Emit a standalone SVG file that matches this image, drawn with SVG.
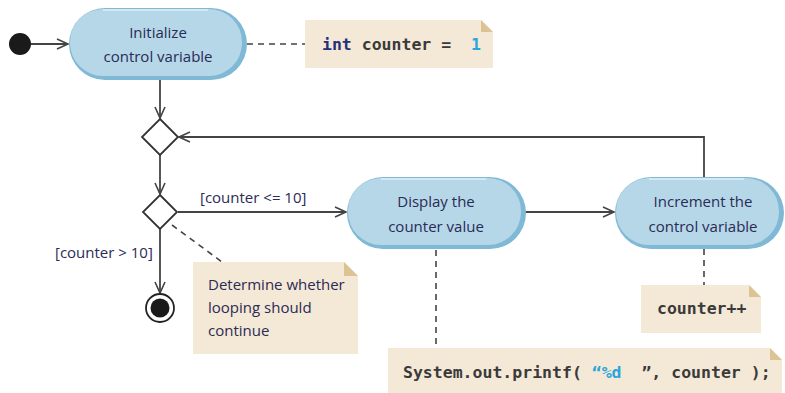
<svg xmlns="http://www.w3.org/2000/svg" width="785" height="393" viewBox="0 0 785 393">
  <defs>
    <marker id="open-arrow" markerUnits="userSpaceOnUse" markerWidth="14" markerHeight="12" refX="12" refY="6" orient="auto">
      <path d="M1,1 L12,6 L1,11" fill="none" stroke="#444" stroke-width="1.6"/>
    </marker>
  </defs>
  <style>
    .flow { fill: none; stroke: #444; stroke-width: 1.8; }
    .link { fill: none; stroke: #444; stroke-width: 1.6; stroke-dasharray: 6 5; }
    .pill-edge { fill: #7fb9d6; }
    .pill-body { fill: #b5d7e8; }
    .pill-glow { fill: none; stroke: #d5e9f2; stroke-width: 2; }
    .label { font-family: "Open Sans", "Liberation Sans", sans-serif; font-size: 15px; fill: #2b2b55; }
    .note { fill: #f4e8d6; }
    .fold { fill: #dcc394; }
    .code { font-family: "DejaVu Sans Mono", "Liberation Mono", monospace; font-size: 16.5px; font-weight: bold; fill: #3a3a3a; white-space: pre; }
    .kw { fill: #25307a; }
    .lit { fill: #2aa5dc; }
    .decision { fill: #fff; stroke: #333; stroke-width: 1.8; }
  </style>

  <!-- connectors -->
  <g id="connectors">
    <line class="flow" x1="31" y1="44" x2="68" y2="44" marker-end="url(#open-arrow)"/>
    <line class="flow" x1="160" y1="80" x2="160" y2="118" marker-end="url(#open-arrow)"/>
    <line class="flow" x1="160" y1="155" x2="160" y2="194" marker-end="url(#open-arrow)"/>
    <line class="flow" x1="178" y1="212" x2="346" y2="212" marker-end="url(#open-arrow)"/>
    <line class="flow" x1="160" y1="229" x2="160" y2="293" marker-end="url(#open-arrow)"/>
    <line class="flow" x1="525" y1="212" x2="614" y2="212" marker-end="url(#open-arrow)"/>
    <polyline class="flow" points="704,177 704,137 179,137" marker-end="url(#open-arrow)"/>
    <text class="label" x="200" y="203">[counter &lt;= 10]</text>
    <text class="label" x="55" y="258">[counter &gt; 10]</text>
    <line class="link" x1="247" y1="44" x2="305" y2="44"/>
    <line class="link" x1="172" y1="225" x2="222" y2="262"/>
    <line class="link" x1="436" y1="250" x2="436" y2="347"/>
    <line class="link" x1="704" y1="249" x2="704" y2="285"/>
  </g>

  <!-- start -->
  <g id="start">
    <circle cx="20" cy="44" r="11" fill="#1a1a1a"/>
  </g>

  <!-- action: initialize -->
  <g id="init">
    <rect class="pill-edge" x="69" y="8" width="178" height="72" rx="36"/>
    <rect class="pill-body" x="70" y="9" width="172" height="67" rx="33"/>
    <path class="pill-glow" d="M103,10 H208"/>
    <text class="label" text-anchor="middle" x="158" y="38">Initialize</text>
    <text class="label" text-anchor="middle" x="158" y="62">control variable</text>
  </g>

  <!-- note: declaration -->
  <g id="note-declare">
    <path class="note" d="M305,20 H481 L493,32 V68 H305 Z"/>
    <path class="fold" d="M481,20 L493,32 H481 Z"/>
    <text class="code" xml:space="preserve" x="322" y="50"><tspan class="kw">int</tspan> counter =  <tspan class="lit">1</tspan></text>
  </g>

  <!-- merge -->
  <g id="merge">
    <path class="decision" d="M160,119 L178,137 L160,155 L142,137 Z"/>
  </g>

  <!-- decision -->
  <g id="decision">
    <path class="decision" d="M160,195 L177,212 L160,229 L143,212 Z"/>
  </g>

  <!-- note: loop test -->
  <g id="note-test">
    <path class="note" d="M193,262 H344 L358,276 V354 H193 Z"/>
    <path class="fold" d="M344,262 L358,276 H344 Z"/>
    <text class="label" x="208" y="290">Determine whether</text>
    <text class="label" x="208" y="313">looping should</text>
    <text class="label" x="208" y="336">continue</text>
  </g>

  <!-- final -->
  <g id="final">
    <circle cx="160" cy="308" r="14" fill="#fff" stroke="#222" stroke-width="1.8"/>
    <circle cx="160" cy="308" r="9.5" fill="#1a1a1a"/>
  </g>

  <!-- action: display -->
  <g id="display">
    <rect class="pill-edge" x="347" y="177" width="179" height="72" rx="36"/>
    <rect class="pill-body" x="348" y="178" width="173" height="67" rx="33"/>
    <path class="pill-glow" d="M381,179 H486"/>
    <text class="label" text-anchor="middle" x="436" y="207">Display the</text>
    <text class="label" text-anchor="middle" x="436" y="232">counter value</text>
  </g>

  <!-- action: increment -->
  <g id="increment">
    <rect class="pill-edge" x="615" y="177" width="169" height="72" rx="36"/>
    <rect class="pill-body" x="616" y="178" width="163" height="67" rx="33"/>
    <path class="pill-glow" d="M649,179 H744"/>
    <text class="label" text-anchor="middle" x="703" y="207">Increment the</text>
    <text class="label" text-anchor="middle" x="703" y="232">control variable</text>
  </g>

  <!-- note: increment code -->
  <g id="note-increment">
    <path class="note" d="M641,285 H749 L761,297 V333 H641 Z"/>
    <path class="fold" d="M749,285 L761,297 H749 Z"/>
    <text class="code" x="657" y="314">counter++</text>
  </g>

  <!-- note: print code -->
  <g id="note-print">
    <path class="note" d="M388,348 H770 L782,360 V393 H388 Z"/>
    <path class="fold" d="M770,348 L782,360 H770 Z"/>
    <text class="code" xml:space="preserve" x="403" y="378">System.out.printf( <tspan class="lit">“%d</tspan>  ”, counter );</text>
  </g>
</svg>
